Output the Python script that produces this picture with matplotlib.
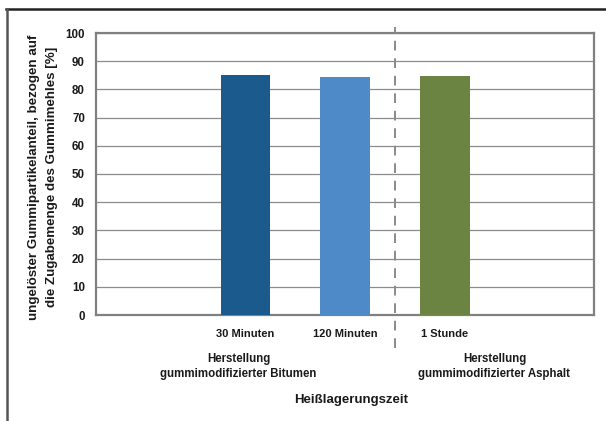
import matplotlib
matplotlib.use("Agg")
import matplotlib.pyplot as plt
from matplotlib.lines import Line2D
from matplotlib.transforms import blended_transform_factory

plt.rcParams['font.family'] = ['Liberation Sans', 'DejaVu Sans']

# Slots on the x axis (outer slots stay empty)
categories = ["", "30 Minuten", "120 Minuten", "1 Stunde", ""]
values = [None, 85.0, 84.4, 84.7, None]
colors = [None, "#1b5a8c", "#4e8ac8", "#6b8442", None]
y_ticks = [0, 10, 20, 30, 40, 50, 60, 70, 80, 90, 100]
group_labels = ["Herstellung\ngummimodifizierter Bitumen",
                "Herstellung\ngummimodifizierter Asphalt"]
group_x = [0.93, 3.5]
separator_x = 2.5
x_title = "Heißlagerungszeit"
y_title = "ungelöster Gummipartikelanteil, bezogen auf\ndie Zugabemenge des Gummimehles [%]"

fig = plt.figure(figsize=(6.06, 4.21), dpi=100)
ax = fig.add_axes([96 / 606, 1 - 315 / 421, 498 / 606, 282 / 421])

xs = list(range(len(categories)))
for x, v, c in zip(xs, values, colors):
    if v is not None:
        ax.bar(x, v, width=0.5, color=c, zorder=3)

ax.set_xlim(-0.5, len(categories) - 0.5)
ax.set_ylim(0, 100)
ax.set_yticks(y_ticks)
ax.set_xticks(xs)
ax.set_xticklabels(categories)
ax.grid(axis='y', color='#8c8c8c', linewidth=0.9, zorder=0)
ax.tick_params(length=0)
ax.tick_params(axis='y', pad=8, labelsize=8.3)
ax.tick_params(axis='x', pad=10, labelsize=8)
for lab in ax.get_xticklabels() + ax.get_yticklabels():
    lab.set_fontweight('bold')
    lab.set_color('#1a1a1a')
for s in ax.spines.values():
    s.set_color('#808080')
    s.set_linewidth(1.6)

trans = blended_transform_factory(ax.transData, ax.transAxes)
ax.plot([separator_x, separator_x], [-0.117, 1.021], transform=trans,
        color='#8a8a8a', linewidth=1.4, linestyle=(0, (5, 4)), clip_on=False, zorder=4)

for gx, gl in zip(group_x, group_labels):
    ax.text(gx, -0.183, gl, transform=trans, ha='center', va='center',
            fontsize=8.3, fontweight='bold', color='#1a1a1a', linespacing=1.4)

fig.text(351 / 606, 1 - 400 / 421, x_title, ha='center', va='center',
         fontsize=9.5, fontweight='bold', color='#1a1a1a')
fig.text(43 / 606, 1 - 177 / 421, y_title, ha='center', va='center', rotation=90,
         fontsize=9.6, fontweight='bold', color='#1a1a1a', linespacing=1.6,
         multialignment='center')

# Outer frame: top and left border lines
fig.add_artist(Line2D([6 / 606, 1.0], [1 - 9 / 421, 1 - 9 / 421], transform=fig.transFigure,
                      color='#222222', linewidth=1.8))
fig.add_artist(Line2D([7 / 606, 7 / 606], [0, 1 - 9 / 421], transform=fig.transFigure,
                      color='#555555', linewidth=1.8))

fig.savefig("out.png", dpi=100)
